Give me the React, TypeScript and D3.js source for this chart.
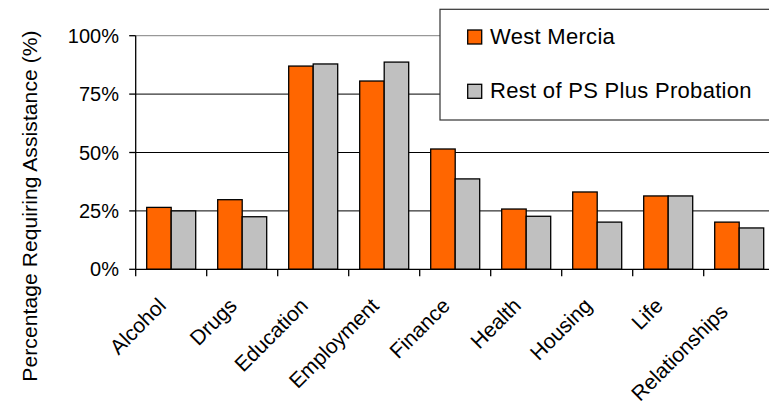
import React from "react";
import * as d3 from "d3";

const categories = ["Alcohol", "Drugs", "Education", "Employment", "Finance", "Health", "Housing", "Life", "Relationships"];
const seriesNames = ["West Mercia", "Rest of PS Plus Probation"];
const westMercia = [26.5, 29.8, 87.0, 80.6, 51.5, 25.8, 33.1, 31.4, 20.2];
const restOfPS = [25.0, 22.5, 87.9, 88.7, 38.7, 22.7, 20.2, 31.4, 17.7];
const yTicks = [0, 25, 50, 75, 100];
const colors = ["#FF6600", "#C0C0C0"];

const W = 769, H = 409;
const plotLeft = 135.7, plotTop = 35.7, plotBottom = 269.3, bandStep = 71;
const FONT = "'Liberation Sans', Arial, sans-serif";

export default function App() {
  const x0 = d3.scaleBand<string>().domain(categories).range([plotLeft, plotLeft + bandStep * categories.length]).padding(0);
  const x1 = d3.scaleBand<string>().domain(seriesNames).range([0, x0.bandwidth()]).paddingInner(0).paddingOuter(0.449);
  const y = d3.scaleLinear().domain([0, 100]).range([plotBottom, plotTop]);
  const series = [westMercia, restOfPS];
  const plotRight = plotLeft + bandStep * categories.length;

  return (
    <svg width={W} height={H} style={{ position: "absolute", left: 0, top: 0, background: "#fff" }} fontFamily={FONT}>
      <rect x={0} y={0} width={W} height={H} fill="#fff" />
      {yTicks.filter(t => t > 0 && t < 100).map(t => (
        <line key={t} x1={plotLeft} x2={plotRight} y1={y(t)} y2={y(t)} stroke="#000" strokeWidth={1} />
      ))}
      <line x1={plotLeft} x2={plotRight} y1={y(100)} y2={y(100)} stroke="#808080" strokeWidth={1} />
      {categories.map((c, i) => (
        <g key={c} transform={`translate(${x0(c)},0)`}>
          {seriesNames.map((s, j) => (
            <rect key={s} x={x1(s)} y={y(series[j][i])} width={x1.bandwidth()} height={plotBottom - y(series[j][i])}
              fill={colors[j]} stroke="#000" strokeWidth={1.3} />
          ))}
        </g>
      ))}
      <line x1={plotLeft} x2={plotLeft} y1={plotTop} y2={plotBottom} stroke="#000" strokeWidth={1.3} />
      {yTicks.map(t => (
        <g key={t}>
          <line x1={plotLeft - 6.5} x2={plotLeft} y1={y(t)} y2={y(t)} stroke="#000" strokeWidth={1.3} />
          <text x={119} y={y(t) + 7} textAnchor="end" fontSize={20} fill="#000">{t}%</text>
        </g>
      ))}
      <line x1={plotLeft} x2={plotRight} y1={plotBottom} y2={plotBottom} stroke="#000" strokeWidth={1.3} />
      {d3.range(categories.length + 1).map(k => (
        <line key={k} x1={plotLeft + k * bandStep} x2={plotLeft + k * bandStep} y1={plotBottom} y2={plotBottom + 7} stroke="#000" strokeWidth={1.3} />
      ))}
      {categories.map((c, i) => {
        const nudge = i === categories.length - 1 ? 6 : 0;
        const cx = (x0(c) as number) + x0.bandwidth() / 2 - 4 - nudge;
        const cy = 307 + nudge;
        return (
          <text key={c} x={cx} y={cy} textAnchor="end" fontSize={21} fill="#000"
            transform={`rotate(-45 ${cx} ${cy})`}>{c}</text>
        );
      })}
      <text x={37} y={206} textAnchor="middle" fontSize={21} letterSpacing={0.1} fill="#000"
        transform="rotate(-90 37 206)">Percentage Requiring Assistance (%)</text>
      <rect x={440} y={9.3} width={340} height={110.7} fill="#fff" stroke="#333" strokeWidth={1.2} />
      {seriesNames.map((s, j) => (
        <g key={s}>
          <rect x={467.7} y={30 + j * 54.3} width={14} height={14} fill={colors[j]} stroke="#000" strokeWidth={1.3} />
          <text x={490} y={44 + j * 54.3} fontSize={22} letterSpacing={0.3} fill="#000">{s}</text>
        </g>
      ))}
    </svg>
  );
}
